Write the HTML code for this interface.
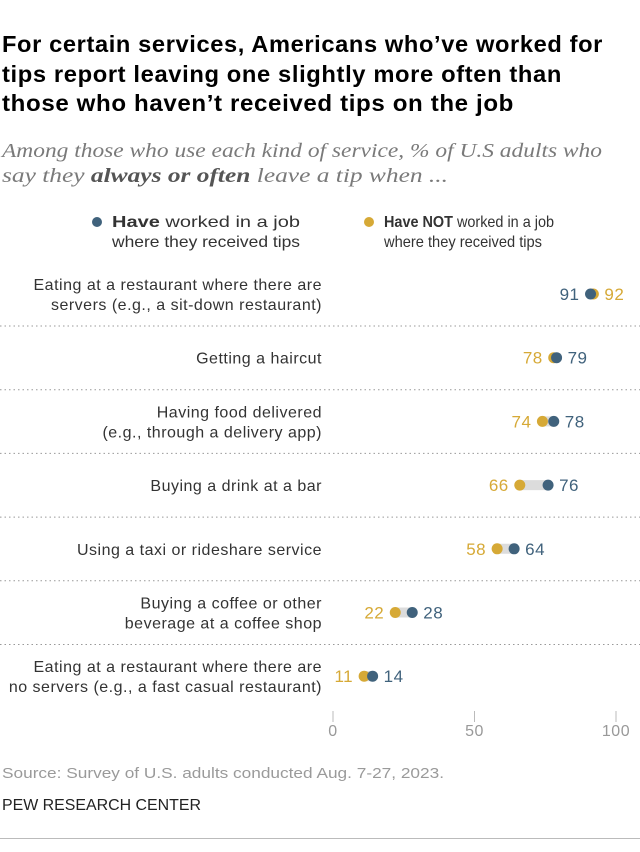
<!DOCTYPE html>
<html><head><meta charset="utf-8">
<style>
body{margin:0;background:#fff;width:640px;height:847px;overflow:hidden;font-family:"Liberation Sans",sans-serif}
svg text{font-family:"Liberation Sans",sans-serif}
</style></head>
<body>
<svg id="chart" width="640" height="847" viewBox="0 0 640 847">
<g font-weight="bold" font-size="23" fill="#000" letter-spacing="0.6">
<text x="2" y="52" textLength="601" lengthAdjust="spacingAndGlyphs">For certain services, Americans who’ve worked for</text>
<text x="2" y="82" textLength="560" lengthAdjust="spacingAndGlyphs">tips report leaving one slightly more often than</text>
<text x="2" y="111" textLength="512" lengthAdjust="spacingAndGlyphs">those who haven’t received tips on the job</text>
</g>
<g font-size="20" fill="#7a7a7a" font-style="italic">
<text x="2" y="157" textLength="600" lengthAdjust="spacingAndGlyphs" style="font-family:'Liberation Serif',serif">Among those who use each kind of service, % of U.S adults who</text>
<text x="2" y="182" textLength="446" lengthAdjust="spacingAndGlyphs" style="font-family:'Liberation Serif',serif">say they <tspan font-weight="bold" fill="#555">always or often</tspan> leave a tip when ...</text>
</g>
<g font-size="16" fill="#333">
<circle cx="97" cy="222" r="5" fill="#40627c"/>
<text x="112" y="227" textLength="188" lengthAdjust="spacingAndGlyphs"><tspan font-weight="bold">Have</tspan> worked in a job</text>
<text x="112" y="247" textLength="188" lengthAdjust="spacingAndGlyphs">where they received tips</text>
<circle cx="369" cy="222" r="5" fill="#d6a936"/>
<text x="384" y="227" textLength="170" lengthAdjust="spacingAndGlyphs"><tspan font-weight="bold">Have NOT</tspan> worked in a job</text>
<text x="384" y="247" textLength="158" lengthAdjust="spacingAndGlyphs">where they received tips</text>
</g>
<g id="rows"></g>
<g id="axis"></g>
<text x="2" y="778" font-size="15" fill="#9a9a9a" textLength="442" lengthAdjust="spacingAndGlyphs">Source: Survey of U.S. adults conducted Aug. 7-27, 2023.</text>
<text x="2" y="810" font-size="15.5" fill="#222" textLength="199" lengthAdjust="spacingAndGlyphs">PEW RESEARCH CENTER</text>
<line x1="0" y1="838.5" x2="640" y2="838.5" stroke="#bbb" stroke-width="1"/>
</svg>
<script>
const categories=[["Eating at a restaurant where there are","servers (e.g., a sit-down restaurant)"],["Getting a haircut"],["Having food delivered","(e.g., through a delivery app)"],["Buying a drink at a bar"],["Using a taxi or rideshare service"],["Buying a coffee or other","beverage at a coffee shop"],["Eating at a restaurant where there are","no servers (e.g., a fast casual restaurant)"]];
const haveWorked=[91,79,78,76,64,28,14];
const haveNot=[92,78,74,66,58,22,11];
const ticks=[0,50,100];
const NS="http://www.w3.org/2000/svg";
const x=v=>333+v*2.83;
const rowY=i=>294+i*63.7;
function mk(tag,attrs,parent,txt){const e=document.createElementNS(NS,tag);for(const k in attrs)e.setAttribute(k,attrs[k]);if(txt!==undefined)e.textContent=txt;parent.appendChild(e);return e;}
const rows=document.getElementById('rows');
const BLUE="#40627c",GOLD="#d6a936";
categories.forEach((c,i)=>{
 const y=rowY(i);
 const g=mk('g',{},rows);
 
 
 const lines=c.length;
 c.forEach((t,j)=>{const tx=mk('text',{x:322,y:y+6+(j-(lines-1)/2)*20,'text-anchor':'end','font-size':16,'letter-spacing':0.5,fill:'#333'},g,t);
  
  });
 if(i<categories.length-1){const l=mk('line',{x1:0,x2:640,y1:y+32,y2:y+32,stroke:'#999','stroke-dasharray':'1.5 3','stroke-width':1},g);
  
  }
 const a=haveWorked[i],b=haveNot[i];
 const bar=mk('line',{x1:x(Math.min(a,b)),x2:x(Math.max(a,b)),y1:y,y2:y,stroke:'#dcdcdc','stroke-width':10},g);
 
 
 const blueRight=a>=b;
 const d2=mk('circle',{cx:x(b),cy:y,r:5.5,fill:GOLD},g);
 
 
 const d1=mk('circle',{cx:x(a),cy:y,r:5.5,fill:BLUE},g);
 
 
 const hi=Math.max(a,b),lo=Math.min(a,b);
 const l1=mk('text',{x:x(hi)+11,y:y+6,'font-size':17,'letter-spacing':0.5,fill:blueRight?BLUE:GOLD},g,String(hi));
 
 
 const l2=mk('text',{x:x(lo)-11,y:y+6,'text-anchor':'end','font-size':17,'letter-spacing':0.5,fill:blueRight?GOLD:BLUE},g,String(lo));
 
 
});
const axis=document.getElementById('axis');
ticks.forEach(t=>{
 const l=mk('line',{x1:x(t),x2:x(t),y1:711,y2:722,stroke:'#bbb','stroke-width':1},axis);
 
 
 const tx=mk('text',{x:x(t),y:736,'text-anchor':'middle','font-size':16,'letter-spacing':0.5,fill:'#999'},axis,String(t));
 
 
});
</script>
</body></html>
